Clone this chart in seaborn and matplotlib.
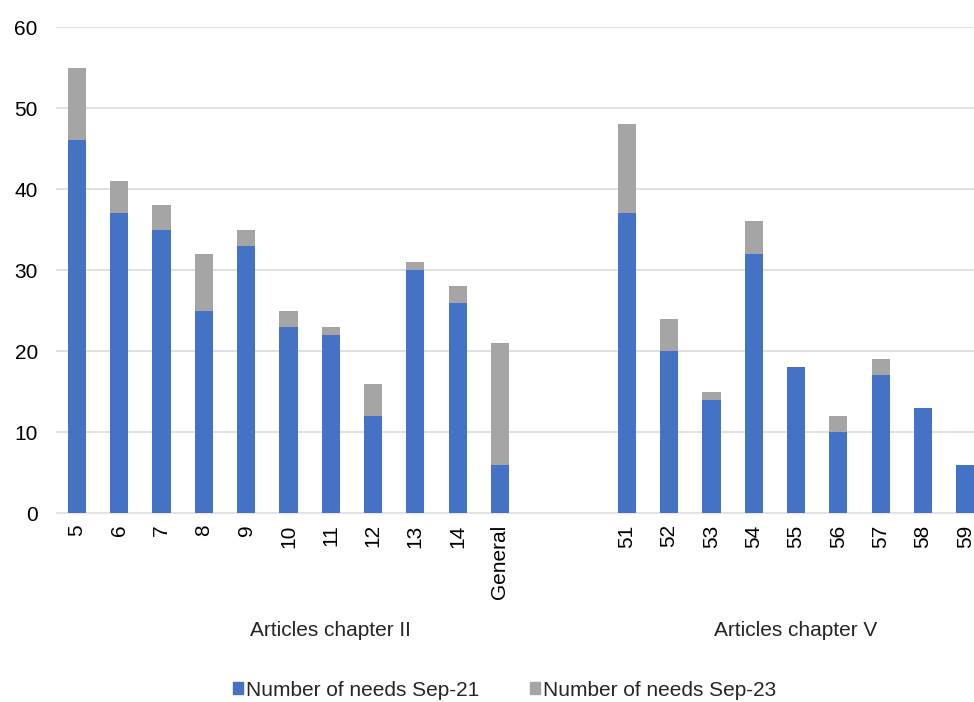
import pandas as pd
import numpy as np
import matplotlib.pyplot as plt
import seaborn as sns

# data
chapter2_articles = ["5", "6", "7", "8", "9", "10", "11", "12", "13", "14", "General"]
chapter2_sep21 = [46, 37, 35, 25, 33, 23, 22, 12, 30, 26, 6]
chapter2_sep23 = [9, 4, 3, 7, 2, 2, 1, 4, 1, 2, 15]

chapter5_articles = ["51", "52", "53", "54", "55", "56", "57", "58", "59"]
chapter5_sep21 = [37, 20, 14, 32, 18, 10, 17, 13, 6]
chapter5_sep23 = [11, 4, 1, 4, 0, 2, 2, 0, 0]

gaps = ["_gap1", "_gap2"]
order = chapter2_articles + gaps + chapter5_articles

df = pd.DataFrame({
    "article": chapter2_articles + chapter5_articles,
    "sep21": chapter2_sep21 + chapter5_sep21,
    "sep23": chapter2_sep23 + chapter5_sep23,
})
df["total"] = df["sep21"] + df["sep23"]

sns.set_theme(style="white")
plt.rcParams["font.family"] = ["Liberation Sans", "DejaVu Sans"]

BLUE = "#4472C4"
GREY = "#A5A5A5"
FS = 15

fig = plt.figure(figsize=(9.74, 7.02), dpi=100)
ax = fig.add_axes([0.0573, 0.269, 0.9554, 0.6925])

sns.barplot(data=df, x="article", y="total", order=order, color=GREY,
            width=0.43, saturation=1, ax=ax, zorder=3, linewidth=0)
sns.barplot(data=df, x="article", y="sep21", order=order, color=BLUE,
            width=0.43, saturation=1, ax=ax, zorder=4, linewidth=0)

ax.set_xlim(-0.5, len(order) - 0.5)
ax.set_ylim(0, 60)
ax.set_yticks(range(0, 61, 10))
ax.yaxis.grid(True, color="#D9D9D9", linewidth=1.1, zorder=0)
ax.set_axisbelow(True)
for side in ["top", "right", "left"]:
    ax.spines[side].set_visible(False)
ax.spines["bottom"].set_color("#E6E6E6")
ax.spines["bottom"].set_linewidth(1)

ax.set_xticks(range(len(order)))
ax.set_xticklabels(["" if o in gaps else o for o in order], rotation=90,
                   fontsize=FS, color="#000000", va="top")
ax.tick_params(axis="x", length=0, pad=8)
ax.tick_params(axis="y", length=0, labelsize=FS, labelcolor="#000000", pad=13)
ax.set_xlabel("")
ax.set_ylabel("")

# group labels
n2 = len(chapter2_articles) + len(gaps)
ax.text((n2 - 1) / 2, -0.241, "Articles chapter II", transform=ax.get_xaxis_transform(),
        ha="center", va="center", fontsize=FS)
ax.text(n2 + (len(chapter5_articles) - 1) / 2, -0.241, "Articles chapter V",
        transform=ax.get_xaxis_transform(), ha="center", va="center", fontsize=FS)

# legend
handles = [plt.Rectangle((0, 0), 1, 1, color=BLUE), plt.Rectangle((0, 0), 1, 1, color=GREY)]
fig.legend(handles, ["Number of needs Sep-21", "Number of needs Sep-23"],
           loc="center", bbox_to_anchor=(0.518, 0.017), ncol=2, frameon=False,
           fontsize=FS, handlelength=0.5, handleheight=0.5, handletextpad=0.15,
           columnspacing=2.4)

fig.savefig("out.png", dpi=100)
